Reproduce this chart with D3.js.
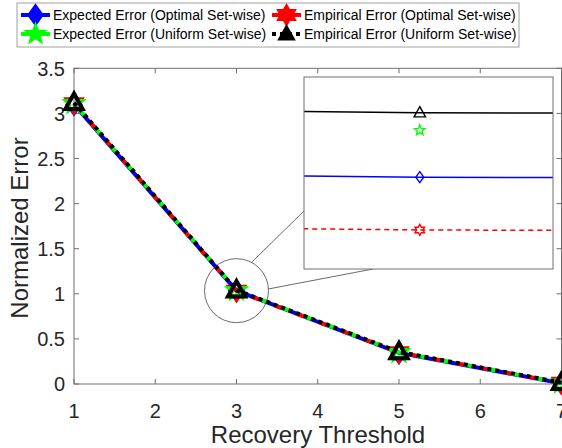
<!DOCTYPE html>
<html>
<head>
<meta charset="utf-8">
<script src="https://cdn.jsdelivr.net/npm/d3@7"></script>
<style>
body { margin: 0; background: #fff; }
text { font-family: "Liberation Sans", Arial, Helvetica, sans-serif; }
</style>
</head>
<body>
<svg id="chart" width="562" height="448"></svg>
<script>
// recovery thresholds on the x axis
var thresholds = [1, 3, 5, 7];
// normalized error, one array per series
var expectedOptimal  = [3.10, 1.0345, 0.345, 0.008];
var empiricalOptimal = [3.11, 1.0300, 0.350, 0.010];
var expectedUniform  = [3.11, 1.0385, 0.350, 0.012];
var empiricalUniform = [3.12, 1.0400, 0.355, 0.015];
var xTicks = [1, 2, 3, 4, 5, 6, 7];
var yTicks = [0, 0.5, 1, 1.5, 2, 2.5, 3, 3.5];
var seriesNames = ["Expected Error (Optimal Set-wise)", "Empirical Error (Optimal Set-wise)",
                   "Expected Error (Uniform Set-wise)", "Empirical Error (Uniform Set-wise)"];

// the four lines overlap, dashes chosen so red/green/blue show between the black dots
var series = [
 {name: seriesNames[0], values: expectedOptimal,  color: "#0000ff", dash: null,   off: 0,  mark: "diamond",  inset: true},
 {name: seriesNames[1], values: empiricalOptimal, color: "#ff0000", dash: "8,16", off: 0,  mark: "hexagram", inset: true},
 {name: seriesNames[2], values: expectedUniform,  color: "#00ff00", dash: "8,16", off: 16, mark: "pentagram", inset: false},
 {name: seriesNames[3], values: empiricalUniform, color: "#000000", dash: "4,4",  off: 0,  mark: "triangle", inset: true}
];

function marker(type, s) {
 var pts = [];
 if (type == "diamond") pts = [[0,-s],[0.72*s,0],[0,s],[-0.72*s,0]];
 else if (type == "triangle") pts = [[0,-s],[0.95*s,0.7*s],[-0.95*s,0.7*s]];
 else {
  var n = type == "pentagram" ? 5 : 6, ri = type == "pentagram" ? 0.42 : 0.58;
  for (var i = 0; i < 2*n; i++) {
   var a = -Math.PI/2 + i*Math.PI/n, r = i%2 ? s*ri : s;
   pts.push([r*Math.cos(a), r*Math.sin(a)]);
  }
 }
 return "M" + pts.map(function(p){ return p[0].toFixed(2)+","+p[1].toFixed(2); }).join("L") + "Z";
}

var svg = d3.select("#chart");
var axisColor = "#6e6e6e", textColor = "#262626";
var x = d3.scaleLinear().domain([1, 7]).range([74, 561.5]);
var y = d3.scaleLinear().domain([0, 3.5]).range([384, 68.3]);

// axes box and ticks
var g = svg.append("g");
g.append("rect").attr("x", x(1)).attr("y", y(3.5)).attr("width", x(7)-x(1)).attr("height", y(0)-y(3.5))
 .attr("fill", "none").attr("stroke", axisColor).attr("stroke-width", 1);
xTicks.forEach(function(t) {
 g.append("line").attr("x1", x(t)).attr("x2", x(t)).attr("y1", y(0)).attr("y2", y(0)-5).attr("stroke", axisColor);
 g.append("line").attr("x1", x(t)).attr("x2", x(t)).attr("y1", y(3.5)).attr("y2", y(3.5)+5).attr("stroke", axisColor);
 g.append("text").attr("x", x(t)).attr("y", 418).attr("text-anchor", "middle").attr("font-size", 20)
  .attr("fill", textColor).text(t);
});
yTicks.forEach(function(t) {
 g.append("line").attr("x1", x(1)).attr("x2", x(1)+5).attr("y1", y(t)).attr("y2", y(t)).attr("stroke", axisColor);
 g.append("line").attr("x1", x(7)).attr("x2", x(7)-5).attr("y1", y(t)).attr("y2", y(t)).attr("stroke", axisColor);
 g.append("text").attr("x", 65).attr("y", y(t)).attr("dy", "0.36em").attr("text-anchor", "end").attr("font-size", 20)
  .attr("fill", textColor).text(d3.format("~g")(t));
});
g.append("text").attr("x", 318).attr("y", 443).attr("text-anchor", "middle").attr("font-size", 24)
 .attr("fill", textColor).text("Recovery Threshold");
g.append("text").attr("transform", "translate(28,228) rotate(-90)").attr("text-anchor", "middle").attr("font-size", 24)
 .attr("fill", textColor).text("Normalized Error");

// main lines and markers
var line = d3.line().x(function(d){ return x(d[0]); }).y(function(d){ return y(d[1]); });
series.forEach(function(s) {
 var pts = thresholds.map(function(t, i){ return [t, s.values[i]]; });
 g.append("path").attr("d", line(pts)).attr("fill", "none").attr("stroke", s.color).attr("stroke-width", 4)
  .attr("stroke-dasharray", s.dash).attr("stroke-dashoffset", s.off);
 pts.forEach(function(p) {
  g.append("path").attr("d", marker(s.mark, s.mark == "triangle" ? 9 : 10))
   .attr("transform", "translate(" + x(p[0]) + "," + y(p[1]) + ")")
   .attr("fill", "none").attr("stroke", s.color).attr("stroke-width", s.mark == "triangle" ? 4 : 2.5);
 });
});

// magnifier circle at threshold 3 and the inset
var cx = x(3), cy = y(1.035), cr = 32;
g.append("circle").attr("cx", cx).attr("cy", cy).attr("r", cr).attr("fill", "none").attr("stroke", "#444").attr("stroke-width", 0.8);
var inset = {x0: 304, x1: 553, y0: 77, y1: 269};
[[-62, inset.x0, 211], [-3, 373, inset.y1]].forEach(function(c) {
 var a = c[0]*Math.PI/180;
 g.append("line").attr("x1", cx + cr*Math.cos(a)).attr("y1", cy + cr*Math.sin(a)).attr("x2", c[1]).attr("y2", c[2])
  .attr("stroke", "#444").attr("stroke-width", 0.8);
});
var ix = d3.scaleLinear().domain([2.999907, 3.000107]).range([inset.x0, inset.x1]);
var iy = d3.scaleLinear().domain([1.02667, 1.04304]).range([inset.y1, inset.y0]);
svg.append("clipPath").attr("id", "insetClip").append("rect")
 .attr("x", inset.x0).attr("y", inset.y0).attr("width", inset.x1-inset.x0).attr("height", inset.y1-inset.y0);
var ig = svg.append("g");
ig.append("rect").attr("x", inset.x0).attr("y", inset.y0).attr("width", inset.x1-inset.x0).attr("height", inset.y1-inset.y0)
 .attr("fill", "#fff");
var iline = d3.line().x(function(d){ return ix(d[0]); }).y(function(d){ return iy(d[1]); });
var insetDash = {"#0000ff": null, "#ff0000": "5,4", "#000000": "1.5,3"};
series.forEach(function(s) {
 var pts = thresholds.map(function(t, i){ return [t, s.values[i]]; });
 if (s.inset)
  ig.append("path").attr("d", iline(pts)).attr("clip-path", "url(#insetClip)").attr("fill", "none")
   .attr("stroke", s.color).attr("stroke-width", 1.5).attr("stroke-dasharray", insetDash[s.color]);
 ig.append("path").attr("d", marker(s.mark, s.mark == "triangle" ? 6 : 5.5))
  .attr("transform", "translate(" + ix(3) + "," + iy(s.values[1]) + ")")
  .attr("fill", "none").attr("stroke", s.color).attr("stroke-width", 1.4);
});
ig.append("rect").attr("x", inset.x0).attr("y", inset.y0).attr("width", inset.x1-inset.x0).attr("height", inset.y1-inset.y0)
 .attr("fill", "none").attr("stroke", axisColor).attr("stroke-width", 1);

// legend
var lg = svg.append("g");
lg.append("rect").attr("x", 17).attr("y", 3).attr("width", 502).attr("height", 44).attr("fill", "#fff")
 .attr("stroke", "#a0a0a0").attr("stroke-width", 1);
var legendPos = [[21, 15], [272, 15], [21, 34], [272, 34]];
series.forEach(function(s, i) {
 var lx = legendPos[i][0], ly = legendPos[i][1];
 lg.append("line").attr("x1", lx).attr("x2", lx+29).attr("y1", ly).attr("y2", ly).attr("stroke", s.color)
  .attr("stroke-width", 4).attr("stroke-dasharray", s.mark == "triangle" ? "4,4" : null);
 lg.append("path").attr("d", marker(s.mark, s.mark == "triangle" ? 8 : 10))
  .attr("transform", "translate(" + (lx+14.5) + "," + ly + ")")
  .attr("fill", s.color).attr("stroke", s.color).attr("stroke-width", 2);
 lg.append("text").attr("x", lx+32).attr("y", ly).attr("dy", "0.36em").attr("font-size", 14)
  .attr("fill", "#000").text(s.name);
});
</script>
</body>
</html>
